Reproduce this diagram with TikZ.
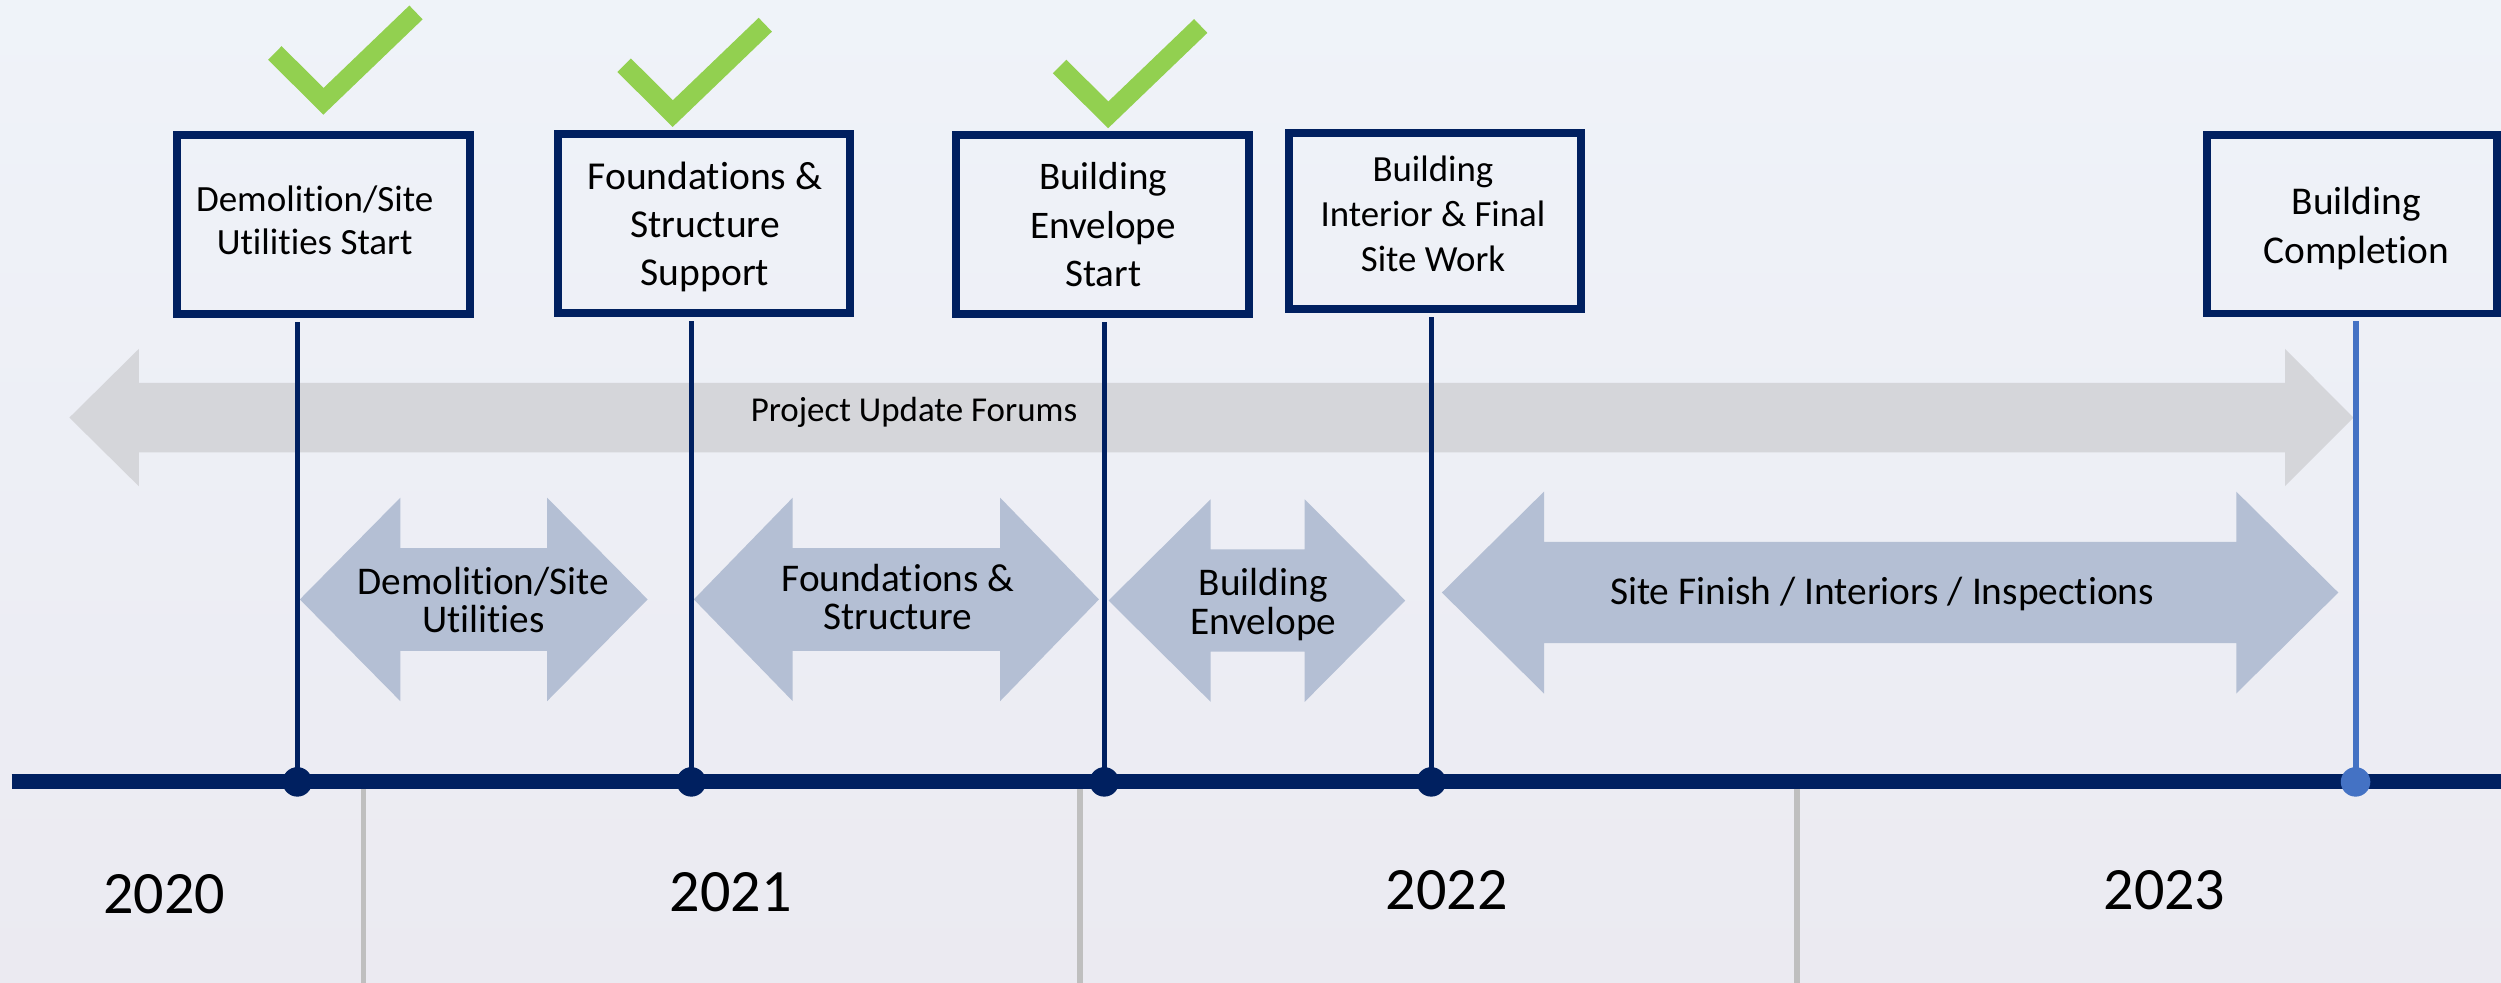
\documentclass[tikz,border=0pt]{standalone}
\usepackage{fontspec}
\setmainfont{Carlito}[Ligatures=NoCommon]
\usetikzlibrary{shapes.geometric}
\definecolor{navy}{HTML}{002060}
\definecolor{lblue}{HTML}{4472C4}
\definecolor{chk}{HTML}{92D050}
\definecolor{phasecol}{HTML}{B4BFD4}
\definecolor{forumcol}{HTML}{D5D6DA}
\definecolor{divcol}{HTML}{BFBFBF}
\definecolor{bgtop}{HTML}{EFF3F9}
\definecolor{bgbot}{HTML}{EBEAF1}
% #1 style, #2 left tip x, #3 left head back x, #4 right head back x, #5 right tip x, #6 centre y, #7 half head, #8 half shaft
\newcommand\dblarr[8]{%
  \fill[#1] (#2,#6) -- (#3,#6-#7) -- (#3,#6-#8) -- (#4,#6-#8) -- (#4,#6-#7) -- (#5,#6)
    -- (#4,#6+#7) -- (#4,#6+#8) -- (#3,#6+#8) -- (#3,#6+#7) -- cycle;}
\begin{document}
\begin{tikzpicture}[x=1pt,y=-1pt,
  mbox/.style={draw=navy,line width=5pt,inner sep=0pt},
  btxt/.style={align=center,inner sep=0pt,text=black},
  stemline/.style={draw=navy,line width=3.2pt},
  mdot/.style={circle,fill=navy,minimum size=18.5pt,inner sep=0pt},
  chkmark/.style={draw=chk,line width=12pt,line join=miter,line cap=butt},
  phtxt/.style={align=center,inner sep=0pt,font=\fontsize{24.6}{24}\selectfont},
  yeartxt/.style={anchor=base,inner sep=0pt,font=\fontsize{37.7}{40}\selectfont},
  divline/.style={draw=divcol,line width=3.5pt}]
\useasboundingbox (0,0) rectangle (1568,616);
\shade[top color=bgtop,bottom color=bgbot] (0,0) rectangle (1568,616);

% project update forums arrow
\dblarr{forumcol}{43.5}{87}{1432.6}{1475.5}{261.8}{43}{21.8}
\node[inner sep=0pt,anchor=base,font=\fontsize{21.9}{24}\selectfont] (forum) at (573,264) {Project Update Forums};

% phase arrows
\dblarr{phasecol}{188}{251}{343}{406}{375.8}{63.8}{32.2}
\dblarr{phasecol}{435}{497}{627}{689}{375.8}{63.8}{32.2}
\dblarr{phasecol}{695}{759}{818}{881}{376.5}{63.5}{32}
\dblarr{phasecol}{904}{968}{1402}{1466}{371.5}{63.3}{31.7}
\node[phtxt] (p1) at (303,376.4) {Demolition/Site\\Utilities};
\node[phtxt] (p2) at (563,374.2) {Foundations \&\\Structure};
\node[phtxt] (p3) at (792,379) {Building\\Envelope};
\node[inner sep=0pt,anchor=base,font=\fontsize{24.7}{26}\selectfont] (p4) at (1180,378.7) {Site Finish / Interiors / Inspections};

% year dividers
\coordinate (v1a) at (228,494); \coordinate (v1b) at (228,616);
\coordinate (v2a) at (677,494); \coordinate (v2b) at (677,616);
\coordinate (v3a) at (1126.5,494); \coordinate (v3b) at (1126.5,616);
\draw[divline] (v1a) -- (v1b);
\draw[divline] (v2a) -- (v2b);
\draw[divline] (v3a) -- (v3b);

% milestone boxes
\node[mbox,minimum width=183.4pt,minimum height=112.5pt] (b1) at (202.8,140.9) {};
\node[mbox,minimum width=183.4pt,minimum height=112.5pt] (b2) at (441.5,140.2) {};
\node[mbox,minimum width=183.9pt,minimum height=112.5pt] (b3) at (691.2,140.9) {};
\node[mbox,minimum width=183.3pt,minimum height=110.3pt] (b4) at (899.8,138.8) {};
\node[mbox,minimum width=182pt,minimum height=112.1pt] (b5) at (1474.5,140.5) {};

\node[btxt,font=\fontsize{23.2}{27.2}\selectfont] (t1) at (197.3,138.1) {Demolition/Site\\Utilities Start};
\node[btxt,font=\fontsize{24.8}{30.3}\selectfont] (t2) at (442,142.2) {Foundations \&\\Structure\\Support};
\node[btxt,font=\fontsize{24.5}{30.3}\selectfont] (t3) at (691.7,140.8) {Building\\Envelope\\Start};
\node[btxt,font=\fontsize{23.1}{28.2}\selectfont] (t4) at (898.4,134) {Building\\Interior \& Final\\Site Work};
\node[btxt,font=\fontsize{24.7}{30.8}\selectfont] (t5) at (1477.3,143) {Building\\Completion};

% event points on the timeline
\coordinate (e1) at (186.4,490.2);
\coordinate (e2) at (433.4,490.2);
\coordinate (e3) at (692.3,490.2);
\coordinate (e4) at (897.3,490.2);
\coordinate (e5) at (1476.8,490.2);

% stems
\draw[stemline] ([yshift=-2.5pt]b1.south -| e1) -- (e1);
\draw[stemline] ([yshift=-2.5pt]b2.south -| e2) -- (e2);
\draw[stemline] ([yshift=-2.5pt]b3.south -| e3) -- (e3);
\draw[stemline] ([yshift=-2.5pt]b4.south -| e4) -- (e4);
\draw[stemline,draw=lblue,line width=3.8pt] ([yshift=-2.5pt]b5.south -| e5) -- (e5);

% timeline bar
\coordinate (tlL) at (7.3,490.1);
\coordinate (tlR) at (1568,490.1);
\draw[navy,line width=9.2pt] (tlL) -- (tlR);

% dots
\node[mdot] (d1) at (e1) {};
\node[mdot] (d2) at (e2) {};
\node[mdot] (d3) at (e3) {};
\node[mdot] (d4) at (e4) {};
\node[mdot,fill=lblue] (d5) at (e5) {};

% check marks
\draw[chkmark] (172.3,33.2) -- (202.8,63.5) -- (260.8,7.8);
\draw[chkmark,shift={(219,7.7)}] (172.3,33.2) -- (202.8,63.5) -- (260.8,7.8);
\draw[chkmark,shift={(492,8.5)}] (172.3,33.2) -- (202.8,63.5) -- (260.8,7.8);

% years
\node[yeartxt] (y20) at (103,572.5) {2020};
\node[yeartxt] (y21) at (458,571.6) {2021};
\node[yeartxt] (y22) at (907,570) {2022};
\node[yeartxt] (y23) at (1357,570) {2023};
\end{tikzpicture}
\end{document}
